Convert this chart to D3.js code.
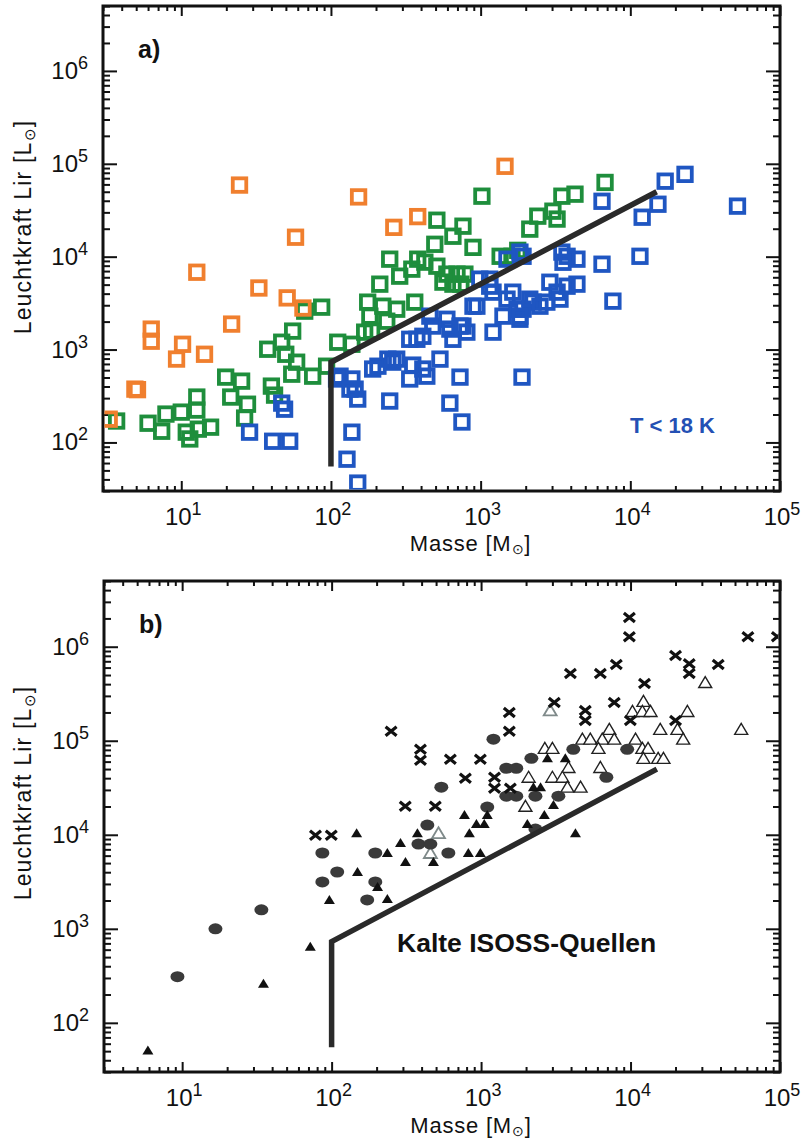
<!doctype html>
<html>
<head>
<meta charset="utf-8">
<script src="https://cdn.jsdelivr.net/npm/d3@7"></script>
<style>
    html, body { margin: 0; padding: 0; background: #fff; }
    #viz { position: absolute; top: 0; left: 0; width: 805px; height: 1139px; }
    text { font-family: "Liberation Sans", Arial, sans-serif; }
</style>
</head>
<body>
<div id="viz"></div>
<script>
// axes (log-log): Masse [M_sun] vs Leuchtkraft Lir [L_sun]
var massDomain = [3, 1e5];
var lumDomain = [30, 5e6];
var massTicks = [10, 100, 1000, 10000, 100000];
var massExp = ["1", "2", "3", "4", "5"];
var lumTicks = [100, 1000, 10000, 100000, 1000000];
var lumExp = ["2", "3", "4", "5", "6"];

// the broken black limit line (same in both panels)
var limitM = [100, 100, 15000];
var limitL = [55, 730, 50000];

// panel a) - open squares [mass, luminosity]
var orangeSrc = [[24.5, 5.9e4], [153, 4.4e4], [58, 1.62e4], [12.7, 6.8e3], [263, 2.07e4], [380, 2.7e4],
    [1455, 9.4e4], [33, 4.6e3], [51, 3.6e3], [65, 2.8e3], [21.7, 1.88e3], [6.3, 1.66e3], [6.3, 1.23e3],
    [10.2, 1.14e3], [9.3, 790], [14.3, 890], [4.9, 375], [5.1, 370], [3.3, 178]];

var greenSrc = [[3.7, 170], [6.0, 161], [7.9, 202], [7.4, 132], [10, 212], [12.7, 308], [12.7, 223], [10.8, 129],
    [11.4, 109], [13, 139], [15.7, 146], [19.8, 505], [25.3, 457], [21.4, 308], [27.7, 258], [26.5, 183],
    [40, 404], [42, 323], [37.8, 1008], [46.9, 1200], [55.5, 1580], [49.9, 890], [59, 731], [54.7, 543],
    [75.5, 517], [86.7, 2860], [66.8, 2590], [111, 1200], [93.5, 662], [138, 1140], [168, 1540], [182, 2290],
    [176, 3240], [222, 2930], [275, 2720], [363, 3240], [236, 2020], [187, 1580], [212, 5060], [247, 9400],
    [288, 6170], [347, 7340], [424, 8730], [494, 1.36e4], [510, 2.47e4], [653, 1.66e4], [762, 2.13e4],
    [889, 1.26e4], [510, 7900], [595, 6490], [695, 6490], [785, 6490], [560, 5320], [653, 5060], [738, 5060],
    [1020, 4.48e4], [380, 9400], [1350, 1.01e4], [1620, 1.01e4], [1770, 1.17e4], [2130, 1.98e4], [2410, 2.73e4],
    [3040, 3.09e4], [3490, 4.48e4], [4270, 4.71e4], [3240, 2.54e4], [6780, 6.3e4]];

var blueSrc = [[1.71e4, 6.5e4], [2.32e4, 7.7e4], [5.2e4, 3.5e4], [1.53e4, 3.67e4], [1.2e4, 2.66e4], [6470, 3.95e4],
    [1.16e4, 1.01e4], [6470, 8300], [4400, 9400], [3490, 1.12e4], [1920, 1.01e4], [1150, 5730], [7650, 3320],
    [1890, 505], [728, 505], [623, 265], [750, 166], [247, 279], [4400, 5060], [3240, 4150], [2770, 3240],
    [2240, 3240], [1920, 2720], [1830, 2120], [1500, 3490], [1210, 4150], [944, 2930], [1210, 1540], [762, 1790],
    [653, 1290], [535, 789], [411, 617], [336, 482], [352, 680], [259, 732], [375, 1290], [479, 1790], [595, 2120],
    [3550, 8710], [1150, 4810], [1410, 2290], [1750, 2720], [1640, 4150], [2130, 3490], [2490, 2930], [2900, 5310],
    [3780, 4810], [3390, 3490], [1830, 2290], [988, 5730], [1500, 9400], [3780, 1.01e4], [458, 2290], [809, 1540],
    [889, 2930], [728, 1790], [437, 517], [206, 662], [240, 789], [275, 789], [151, 293], [145, 375], [138, 482],
    [115, 517], [138, 129], [128, 66], [151, 36.5], [336, 1290], [411, 1390], [623, 1660], [28.6, 129], [40.8, 103],
    [53, 103], [46.9, 265], [49, 228], [109, 482], [134, 375], [190, 617], [1830, 1.12e4]];

// panel b) - comparison samples
var crossSrc = [[78, 9900], [99.5, 9900], [250, 1.26e5], [393, 8.1e4], [393, 6.2e4], [623, 6.35e4], [989, 6.35e4],
    [311, 2.01e4], [494, 2.01e4], [785, 3.99e4], [1545, 2.0e5], [1545, 1.26e5], [1230, 4.09e4], [1230, 3.13e4],
    [1570, 3.13e4], [3090, 2.55e5], [3960, 5.2e5], [4980, 2.1e5], [4980, 1.64e5], [6280, 5.2e5], [8030, 6.46e5],
    [7780, 2.55e5], [9820, 2.04e6], [9820, 1.28e6], [9970, 1.64e5], [1.24e4, 4.06e5], [2.0e4, 8.05e5],
    [2.47e4, 6.6e5], [2.47e4, 5.2e5], [3.86e4, 6.46e5], [2.0e4, 1.64e5], [6.1e4, 1.28e6], [9.6e4, 1.28e6]];

var circleSrc = [[9.3, 310], [16.7, 1000], [33.9, 1590], [86.7, 6400], [86.7, 3150], [109, 4020], [173, 2030],
    [196, 6400], [196, 3150], [437, 1.27e4], [381, 7960], [458, 7960], [604, 6400], [542, 3.21e4], [1210, 1.04e5],
    [1100, 1.97e4], [1475, 5.1e4], [1720, 5.1e4], [1475, 2.57e4], [1720, 2.57e4], [2310, 2.57e4], [2170, 6.5e4],
    [2310, 1.15e4], [3290, 2.57e4], [4140, 8.1e4], [9500, 8.1e4], [6890, 4.09e4]];

var filledTriSrc = [[5.9, 50.8], [35, 261], [72, 644], [96.6, 2030], [149, 4020], [147, 1.04e4], [203, 2790],
    [236, 2080], [236, 6400], [289, 8170], [375, 1.04e4], [312, 5130], [480, 5130], [822, 6400], [989, 6400],
    [835, 1.04e4], [774, 1.62e4], [931, 1.3e4], [1050, 1.3e4], [1100, 1.62e4], [2040, 1.3e4], [2650, 1.62e4],
    [3050, 2.07e4], [2240, 3.21e4], [2500, 3.21e4], [2780, 6.5e4], [3660, 6.5e4], [4280, 1.04e4]];

var grayTriSrc = [[519, 1.04e4], [458, 6400], [2900, 2.1e5]];

var openTriSrc = [[1.22e4, 2.62e5], [1.03e4, 2.05e5], [1.2e4, 2.05e5], [1.36e4, 2.05e5], [2.4e4, 2.05e5],
    [3.16e4, 4.16e5], [7210, 1.32e5], [1.58e4, 1.32e5], [2.06e4, 1.32e5], [5.5e4, 1.32e5], [4760, 1.04e5],
    [5380, 1.04e5], [6470, 1.04e5], [7780, 1.04e5], [1.08e4, 1.04e5], [2.25e4, 1.04e5], [2670, 8.3e4],
    [3000, 8.3e4], [6100, 8.3e4], [1.2e4, 8.3e4], [1.31e4, 8.3e4], [1.22e4, 6.5e4], [1.53e4, 6.5e4],
    [1.66e4, 6.5e4], [3840, 5.2e4], [6280, 5.2e4], [2080, 4.09e4], [3000, 4.09e4], [3500, 4.09e4],
    [3780, 3.21e4], [4630, 3.21e4], [1980, 2.01e4]];

var svg = d3.select("#viz").append("svg")
    .attr("width", 805)
    .attr("height", 1139);

var isMajor = function (d) {
    return Math.abs(Math.log10(d) - Math.round(Math.log10(d))) < 1e-6;
};

var drawPanel = function (box, name) {
    var x = d3.scaleLog().domain(massDomain).range([box.left, box.right]);
    var y = d3.scaleLog().domain(lumDomain).range([box.bottom, box.top]);
    var g = svg.append("g");

    var minorX = x.ticks().filter(function (d) { return !isMajor(d); });
    var minorY = y.ticks().filter(function (d) { return !isMajor(d); });

    var sides = [
        [d3.axisBottom(x), "translate(0," + box.bottom + ")", minorX, massTicks, 5, 10],
        [d3.axisTop(x), "translate(0," + box.top + ")", minorX, massTicks, 5, 10],
        [d3.axisLeft(y), "translate(" + box.left + ",0)", minorY, lumTicks, 7, 14],
        [d3.axisRight(y), "translate(" + box.right + ",0)", minorY, lumTicks, 7, 14]
    ];
    sides.forEach(function (s) {
        [[s[2], s[4]], [s[3], s[5]]].forEach(function (t) {
            var ax = g.append("g")
                .attr("transform", s[1])
                .call(s[0].tickValues(t[0]).tickSize(-t[1]).tickSizeOuter(0).tickFormat(""));
            ax.select(".domain").remove();
            ax.selectAll("line").attr("stroke", "#111").attr("stroke-width", 2);
        });
    });

    g.append("rect")
        .attr("x", box.left).attr("y", box.top)
        .attr("width", box.right - box.left).attr("height", box.bottom - box.top)
        .attr("fill", "none").attr("stroke", "#111").attr("stroke-width", 3);

    // tick labels 10^n
    g.selectAll(".xlab").data(massTicks).enter().append("text")
        .attr("class", "xlab")
        .attr("x", function (d) { return x(d) + 2; })
        .attr("y", box.bottom + 34)
        .attr("text-anchor", "middle")
        .attr("font-size", 24)
        .attr("fill", "#111")
        .each(function (d, i) {
            var t = d3.select(this);
            t.append("tspan").text("10");
            t.append("tspan").attr("dy", -10).attr("font-size", 18).text(massExp[i]);
        });

    g.selectAll(".ylab").data(lumTicks).enter().append("text")
        .attr("class", "ylab")
        .attr("x", box.left - 15)
        .attr("y", function (d) { return y(d) + 8; })
        .attr("text-anchor", "end")
        .attr("font-size", 24)
        .attr("fill", "#111")
        .each(function (d, i) {
            var t = d3.select(this);
            t.append("tspan").text("10");
            t.append("tspan").attr("dy", -10).attr("font-size", 18).text(lumExp[i]);
        });

    // axis titles
    var xt = g.append("text")
        .attr("x", (box.left + box.right) / 2 + 29)
        .attr("y", box.titleY)
        .attr("text-anchor", "middle")
        .attr("font-size", 22)
        .attr("letter-spacing", 0.8)
        .attr("fill", "#111");
    xt.append("tspan").text("Masse [M");
    xt.append("tspan").attr("dy", 3).attr("font-size", 14).text("\u2299");
    xt.append("tspan").attr("dy", -3).text("]");

    var yt = g.append("text")
        .attr("transform", "translate(31," + box.yTitleMid + ") rotate(-90)")
        .attr("text-anchor", "middle")
        .attr("font-size", 23)
        .attr("letter-spacing", 1.2)
        .attr("fill", "#111");
    yt.append("tspan").text("Leuchtkraft Lir [L");
    yt.append("tspan").attr("dy", 4).attr("font-size", 15).text("\u2299");
    yt.append("tspan").attr("dy", -4).text("]");

    g.append("text")
        .attr("x", box.left + 35).attr("y", box.top + 52)
        .attr("font-size", 25).attr("font-weight", "bold").attr("fill", "#111")
        .text(name);

    var clipId = "clip" + name.charAt(0);
    svg.append("clipPath").attr("id", clipId).append("rect")
        .attr("x", box.left + 1.5).attr("y", box.top + 1.5)
        .attr("width", box.right - box.left - 3).attr("height", box.bottom - box.top - 3);
    var plot = svg.append("g").attr("clip-path", "url(#" + clipId + ")");

    return { x: x, y: y, plot: plot, g: g };
};

var drawLimit = function (p) {
    var pts = limitM.map(function (m, i) { return [m, limitL[i]]; });
    p.plot.append("path")
        .datum(pts)
        .attr("d", d3.line().x(function (d) { return p.x(d[0]); }).y(function (d) { return p.y(d[1]); }))
        .attr("fill", "none")
        .attr("stroke", "#2a2a2a")
        .attr("stroke-width", 5.5)
        .attr("stroke-linejoin", "miter");
};

// ---------- panel a ----------
var pa = drawPanel({ left: 103, right: 780, top: 6, bottom: 491, titleY: 551, yTitleMid: 227 }, "a)");

var squares = function (data, color) {
    pa.plot.append("g").selectAll("rect").data(data).enter().append("rect")
        .attr("x", function (d) { return pa.x(d[0]) - 6.75; })
        .attr("y", function (d) { return pa.y(d[1]) - 6.75; })
        .attr("width", 13.5).attr("height", 13.5)
        .attr("fill", "none")
        .attr("stroke", color)
        .attr("stroke-width", 3.8);
};
squares(greenSrc, "#1e8e3c");
squares(blueSrc, "#1f56c2");
squares(orangeSrc, "#f07f2e");
drawLimit(pa);

pa.g.append("text")
    .attr("x", 630).attr("y", 433)
    .attr("font-size", 22).attr("font-weight", "bold")
    .attr("fill", "#2450b4")
    .text("T < 18 K");

// ---------- panel b ----------
var pb = drawPanel({ left: 104, right: 780, top: 581, bottom: 1072, titleY: 1133, yTitleMid: 793 }, "b)");

var place = function (d) { return "translate(" + pb.x(d[0]) + "," + pb.y(d[1]) + ")"; };

pb.plot.append("g").selectAll("path").data(openTriSrc).enter().append("path")
    .attr("transform", place)
    .attr("d", "M0,-6L6.5,5L-6.5,5Z")
    .attr("fill", "#fff").attr("stroke", "#222").attr("stroke-width", 1.4);

pb.plot.append("g").selectAll("path").data(grayTriSrc).enter().append("path")
    .attr("transform", place)
    .attr("d", "M0,-6L6.5,5L-6.5,5Z")
    .attr("fill", "#fff").attr("stroke", "#7f8a8a").attr("stroke-width", 1.8);

pb.plot.append("g").selectAll("ellipse").data(circleSrc).enter().append("ellipse")
    .attr("cx", function (d) { return pb.x(d[0]); })
    .attr("cy", function (d) { return pb.y(d[1]); })
    .attr("rx", 7).attr("ry", 5.5)
    .attr("fill", "#3a3a3a");

pb.plot.append("g").selectAll("path").data(filledTriSrc).enter().append("path")
    .attr("transform", place)
    .attr("d", "M0,-5L5.5,4L-5.5,4Z")
    .attr("fill", "#111");

pb.plot.append("g").selectAll("path").data(crossSrc).enter().append("path")
    .attr("transform", place)
    .attr("d", "M-5.5,-4.5L5.5,4.5M-5.5,4.5L5.5,-4.5")
    .attr("stroke", "#111").attr("stroke-width", 3.2).attr("fill", "none");

drawLimit(pb);

pb.g.append("text")
    .attr("x", 397).attr("y", 952)
    .attr("font-size", 26.5).attr("font-weight", "bold")
    .attr("fill", "#111")
    .text("Kalte ISOSS-Quellen");
</script>
</body>
</html>
